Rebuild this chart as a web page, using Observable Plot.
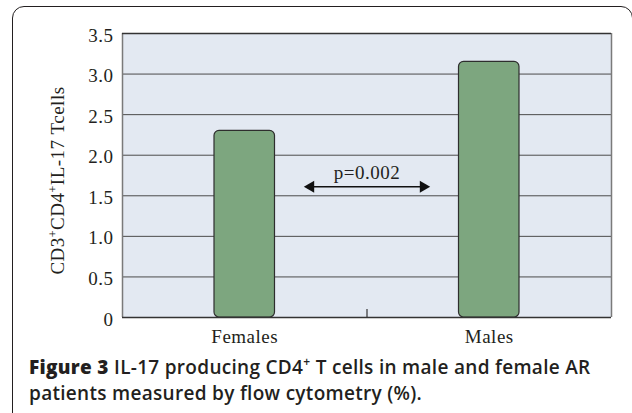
<!DOCTYPE html>
<html>
<head>
<meta charset="utf-8">
<script src="https://cdn.jsdelivr.net/npm/d3@7"></script>
<script src="https://cdn.jsdelivr.net/npm/@observablehq/plot@0.6"></script>
<style>
  html, body { margin: 0; padding: 0; background: #ffffff; width: 632px; height: 413px; overflow: hidden; }
  #box { position: absolute; left: 12px; top: 6px; width: 621px; height: 430px; border: 1.5px solid #231f20; border-radius: 12px; box-sizing: border-box; }
  #chart { position: absolute; left: 0; top: 0; }
  #caption { position: absolute; left: 29px; top: 354px; font-family: 'Open Sans', sans-serif; font-size: 19px; font-weight: 600; line-height: 26px; letter-spacing: 0.3px; color: #231f20; white-space: nowrap; }
  #caption b { font-weight: 800; }
  #caption sup { font-size: 12px; line-height: 0; vertical-align: 8px; }
</style>
</head>
<body>
<div id="box"></div>
<div id="chart"></div>
<div id="caption"></div>
<script>
// ---- data ----
const categories = ["Females", "Males"];
const values = [2.30, 3.15];
const yTicks = [0, 0.5, 1.0, 1.5, 2.0, 2.5, 3.0, 3.5];
const gridValues = [0.5, 1.0, 1.5, 2.0, 2.5, 3.0];
const yLabel = "CD3⁺CD4⁺IL-17 Tcells";
const comparison = ["Females", "Males"];
const pValueText = "p=0.002";
const pValueY = 1.61;
const captionBold = "Figure 3";
const captionLine1 = "IL-17 producing CD4<sup>+</sup> T cells in male and female AR";
const captionLine2 = "patients measured by flow cytometry (%).";

// ---- build ----
const n = categories.length;
const rows = categories.map((c, i) => ({cat: c, i, value: values[i]}));
const center = (c) => categories.indexOf(c) + 0.5;
const comp = [{from: comparison[0], to: comparison[1]}];
const ink = "#231f20";
const serif = "'Liberation Serif', 'Times New Roman', serif";
const fs = 19;

const plot = Plot.plot({
  width: 632,
  height: 352,
  marginLeft: 122,
  marginRight: 21,
  marginTop: 33,
  marginBottom: 35,
  x: {domain: [0, n], axis: null},
  y: {domain: [0, yTicks[yTicks.length - 1]], axis: null},
  style: {fontFamily: serif, color: ink, background: "transparent", overflow: "visible"},
  marks: [
    Plot.frame({fill: "#e3e9f2", stroke: null}),
    Plot.ruleY(gridValues, {stroke: "#4b4b4b", strokeWidth: 1}),
    Plot.ruleX([0, n], {stroke: "#7a7a7a", strokeWidth: 1.5}),
    Plot.ruleY([yTicks[yTicks.length - 1]], {stroke: "#333333", strokeWidth: 1.5}),
    Plot.rectY(rows, {x1: "i", x2: d => d.i + 1, y: "value", insetLeft: 92, insetRight: 92, rx: 5,
      fill: "#7da67f", stroke: "#2e2e2e", strokeWidth: 1.2}),
    Plot.ruleY([0], {stroke: "#333333", strokeWidth: 1.5}),
    Plot.ruleX(d3.range(1, n), {y1: 0, y2: 0.1, stroke: "#333333", strokeWidth: 1.2}),
    // y tick labels
    Plot.text(yTicks, {x: 0, y: d => d, text: d => d === 0 ? "0" : d.toFixed(1),
      textAnchor: "end", dx: -9, dy: 2, fontSize: fs, fill: ink}),
    // x labels
    Plot.text(rows, {x: d => d.i + 0.5, y: 0, text: "cat", dy: 19, fontSize: fs, fill: ink}),
    // y label
    Plot.text([yLabel], {frameAnchor: "left", textAnchor: "middle", dx: -65, dy: 5, rotate: -90,
      text: d => d, fontSize: fs, fill: ink}),
    // comparison arrow
    Plot.arrow(comp, {x1: d => center(d.from), x2: d => center(d.to), y: pValueY,
      insetStart: 62, insetEnd: 62, headLength: 0, stroke: "#111111", strokeWidth: 1.5}),
    Plot.dot(comp, {x: d => center(d.from), y: pValueY, dx: 66, symbol: "triangle", r: 4.45,
      rotate: -90, fill: "#111111", stroke: null}),
    Plot.dot(comp, {x: d => center(d.to), y: pValueY, dx: -66, symbol: "triangle", r: 4.45,
      rotate: 90, fill: "#111111", stroke: null}),
    Plot.text(comp, {x: d => (center(d.from) + center(d.to)) / 2, y: pValueY, text: () => pValueText,
      dy: -14, fontSize: fs, fill: ink})
  ]
});

plot.style.letterSpacing = "0.5px";

// superscript "+" in the y label
d3.select(plot).selectAll("text").filter(function() { return this.textContent === yLabel; })
  .each(function() {
    const t = d3.select(this);
    const parts = yLabel.split("⁺");
    t.text(null);
    parts.forEach((p, k) => {
      t.append("tspan").text(p);
      if (k < parts.length - 1) {
        t.append("tspan").attr("baseline-shift", "super").attr("font-size", 12).text("+");
      }
    });
  });

document.getElementById("chart").appendChild(plot);
document.getElementById("caption").innerHTML =
  "<b>" + captionBold + "</b> " + captionLine1 + "<br>" + captionLine2;
</script>
</body>
</html>
